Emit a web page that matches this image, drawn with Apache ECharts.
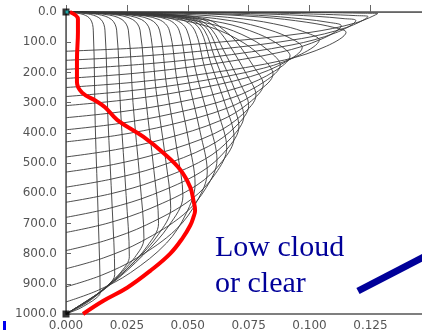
<!DOCTYPE html>
<html>
<head>
<meta charset="utf-8">
<script src="https://cdn.jsdelivr.net/npm/echarts@6/dist/echarts.min.js"></script>
<style>
  html, body { margin: 0; padding: 0; background: #fff; }
  #chart { width: 422px; height: 330px; }
</style>
</head>
<body>
<div id="chart"></div>
<script>
// Individual profiles: [value, level] pairs, level 0 at top, 1000 at bottom
const peak005 = [[0,0],[0.070,1],[0.105,2],[0.122,4],[0.128,5],[0.119,36],[0.0998,68],[0.064,99],[0.032,118],[0,130]];
const peak015 = [[0,0],[0.0558,1],[0.0868,4],[0.1066,8],[0.119,12],[0.124,15],[0.1153,51],[0.0967,88],[0.062,124],[0.031,146],[0,160]];
const peak028 = [[0,0],[0.0536,2],[0.0833,7],[0.1023,14],[0.1142,22],[0.119,28],[0.1107,69],[0.0928,109],[0.0595,150],[0.0298,174],[0,190]];
const peak045 = [[0,0],[0.0509,4],[0.0791,11],[0.0972,23],[0.1085,35],[0.113,45],[0.1051,89],[0.0881,133],[0.0565,176],[0.0283,203],[0,220]];
const peak067 = [[0,0],[0.0518,5],[0.0805,17],[0.0989,34],[0.1104,52],[0.115,67],[0.107,113],[0.0897,159],[0.0575,204],[0.0288,232],[0,250]];
const peak092 = [[0,0],[0.0468,7],[0.0728,23],[0.0894,46],[0.0998,72],[0.104,92],[0.0967,139],[0.0811,186],[0.052,233],[0.026,261],[0,280]];
const peak117 = [[0,0],[0.0437,9],[0.0679,29],[0.0834,59],[0.0931,91],[0.097,117],[0.0902,165],[0.0757,214],[0.0485,262],[0.0243,291],[0,310]];
const peak145 = [[0,0],[0.0414,12],[0.0644,36],[0.0791,73],[0.0883,113],[0.092,145],[0.0856,196],[0.0718,248],[0.046,299],[0.023,330],[0,350]];
const peak175 = [[0,0],[0.0396,14],[0.0616,44],[0.0757,88],[0.0845,137],[0.088,175],[0.0818,229],[0.0686,283],[0.044,336],[0.022,369],[0,390]];
const peak205 = [[0,0],[0.0383,16],[0.0595,51],[0.0731,103],[0.0816,160],[0.085,205],[0.0791,261],[0.0663,318],[0.0425,374],[0.0213,408],[0,430]];
const peak240 = [[0,0],[0.0405,8],[0.0583,25],[0.0648,60],[0.0697,96],[0.077,180],[0.081,240],[0.0753,300],[0.0632,360],[0.0405,420],[0.0203,456],[0,480]];
const peak275 = [[0,0],[0.039,8],[0.0562,25],[0.0624,60],[0.0671,110],[0.0741,206],[0.078,275],[0.0725,339],[0.0608,403],[0.039,466],[0.0195,505],[0,530]];
const peak310 = [[0,0],[0.0375,8],[0.054,25],[0.06,60],[0.0645,124],[0.0713,233],[0.075,310],[0.0698,378],[0.0585,445],[0.0375,513],[0.0188,553],[0,580]];
const peak345 = [[0,0],[0.0365,8],[0.0526,25],[0.0584,60],[0.0628,138],[0.0694,259],[0.073,345],[0.0679,416],[0.0569,488],[0.0365,559],[0.0183,602],[0,630]];
const peak380 = [[0,0],[0.0355,8],[0.0511,25],[0.0568,60],[0.0611,152],[0.0675,285],[0.071,380],[0.066,455],[0.0554,530],[0.0355,605],[0.0178,650],[0,680]];
const peak415 = [[0,0],[0.0345,8],[0.0497,25],[0.0552,60],[0.0593,166],[0.0656,311],[0.069,415],[0.0642,494],[0.0538,573],[0.0345,651],[0.0173,699],[0,730]];
const peak450 = [[0,0],[0.033,8],[0.0475,25],[0.0528,60],[0.0568,180],[0.0627,338],[0.066,450],[0.0614,535],[0.0515,620],[0.033,705],[0.0165,756],[0,790]];
const peak490 = [[0,0],[0.031,8],[0.0446,25],[0.0496,60],[0.0533,196],[0.0589,368],[0.062,490],[0.0577,580],[0.0484,670],[0.031,760],[0.0155,814],[0,850]];
const peak530 = [[0,0],[0.029,8],[0.0418,25],[0.0464,60],[0.0499,212],[0.0551,398],[0.058,530],[0.0539,625],[0.0452,720],[0.029,815],[0.0145,872],[0,910]];
const peak570 = [[0,0],[0.0265,8],[0.0382,25],[0.0424,60],[0.0456,228],[0.0504,428],[0.053,570],[0.0493,668],[0.0413,765],[0.0265,863],[0.0133,921],[0,960]];
const peak610 = [[0,0],[0.024,8],[0.0346,25],[0.0384,60],[0.0413,244],[0.0456,458],[0.048,610],[0.0422,708],[0.0317,805],[0.0182,903],[0.0077,961],[0,1000]];
const peak650 = [[0,0],[0.0215,8],[0.031,25],[0.0344,60],[0.037,260],[0.0409,488],[0.043,650],[0.0378,738],[0.0284,825],[0.0163,913],[0.0069,965],[0,1000]];
const peak700 = [[0,0],[0.019,8],[0.0274,25],[0.0304,60],[0.0327,280],[0.0361,525],[0.038,700],[0.0334,775],[0.0251,850],[0.0144,925],[0.0061,970],[0,1000]];
const peak750 = [[0,0],[0.016,8],[0.023,25],[0.0256,60],[0.0275,300],[0.0304,563],[0.032,750],[0.0282,813],[0.0211,875],[0.0122,938],[0.0051,975],[0,1000]];
const peak810 = [[0,0],[0.013,8],[0.0187,25],[0.0208,60],[0.0224,324],[0.0247,608],[0.026,810],[0.0229,858],[0.0172,905],[0.0099,953],[0.0042,981],[0,1000]];
const peak870 = [[0,0],[0.01,8],[0.0144,25],[0.016,60],[0.0172,348],[0.019,653],[0.02,870],[0.0176,903],[0.0132,935],[0.0076,968],[0.0032,987],[0,1000]];
const peak930 = [[0,0],[0.007,8],[0.0101,25],[0.0112,60],[0.012,372],[0.0133,698],[0.014,930],[0.0123,948],[0.0092,965],[0.0053,983],[0.0022,993],[0,1000]];

// Highlighted profile (thick red)
const meanProfile = [[0.0016,0],[0.0049,23],[0.0049,67],[0.0045,157],[0.0045,233],[0.0066,267],[0.012,293],[0.016,315],[0.021,357],[0.0317,413],[0.040,467],[0.047,523],[0.051,580],[0.0523,623],[0.053,657],[0.0523,680],[0.051,707],[0.048,747],[0.0428,800],[0.0346,857],[0.0251,913],[0.0152,957],[0.007,1000]];

// Axis ranges
const xMin = 0, xMax = 0.147, xStep = 0.025;
const yMin = 0, yMax = 1000, yStep = 100;

// Annotation
const noteLines = ['Low cloud', 'or clear'];

const profiles = [peak005, peak015, peak028, peak045, peak067, peak092, peak117, peak145,
  peak175, peak205, peak240, peak275, peak310, peak345, peak380, peak415, peak450,
  peak490, peak530, peak570, peak610, peak650, peak700, peak750, peak810, peak870, peak930];

const chart = echarts.init(document.getElementById('chart'), null, { renderer: 'canvas' });

const series = profiles.map(function (d) {
  return {
    type: 'line', data: d, smooth: 0.35, symbol: 'none', silent: true,
    lineStyle: { color: '#3a3a3a', width: 0.9 }, z: 2
  };
});
series.push({
  type: 'line', data: meanProfile, smooth: 0.4, symbol: 'none', silent: true,
  lineStyle: { color: '#ff0000', width: 4 }, z: 5
});
// corner markers
series.push({
  type: 'scatter', data: [[0, 0], [0, 1000]], symbol: 'rect', symbolSize: 7,
  itemStyle: { color: '#000' }, z: 6, silent: true
});
series.push({
  type: 'scatter', data: [[0, 0]], symbol: 'rect', symbolSize: 3, symbolOffset: [1, 0],
  itemStyle: { color: '#22cccc' }, z: 7, silent: true
});

chart.setOption({
  animation: false,
  backgroundColor: '#ffffff',
  grid: {
    left: 66, right: -2, top: 12, bottom: 16,
    containLabel: false, outerBoundsMode: 'none',
    show: true, borderColor: '#555', borderWidth: 1.5
  },
  xAxis: {
    type: 'value', min: xMin, max: xMax, interval: xStep,
    axisLine: { show: true, lineStyle: { color: '#666', width: 1 } },
    axisTick: { show: true, inside: true, length: 7, lineStyle: { color: '#666' } },
    splitLine: { show: false },
    axisLabel: {
      margin: 6, color: '#555', fontFamily: 'DejaVu Sans', fontSize: 12, showMaxLabel: false,
      formatter: function (v) { return v.toFixed(3); }
    }
  },
  yAxis: {
    type: 'value', inverse: true, min: yMin, max: yMax, interval: yStep,
    axisLine: { show: true, lineStyle: { color: '#666', width: 1 } },
    axisTick: { show: true, inside: true, length: 5, lineStyle: { color: '#666' } },
    splitLine: { show: false },
    axisLabel: {
      margin: 9, color: '#555', fontFamily: 'DejaVu Sans', fontSize: 12,
      formatter: function (v) { return v.toFixed(1); }
    }
  },
  graphic: [
    {
      type: 'text', left: 215, top: 230, z: 10,
      style: {
        text: noteLines.join('\n'), fill: '#000099',
        font: '30px "Liberation Serif", "Times New Roman", serif', lineHeight: 36
      }
    },
    {
      type: 'line', z: 10,
      shape: { x1: 358, y1: 291, x2: 430, y2: 253.8 },
      style: { stroke: '#000099', lineWidth: 7 }
    },
    {
      type: 'rect', z: 10,
      shape: { x: 3, y: 321, width: 3, height: 9 },
      style: { fill: '#0000ee' }
    }
  ],
  series: series
});
</script>
</body>
</html>
